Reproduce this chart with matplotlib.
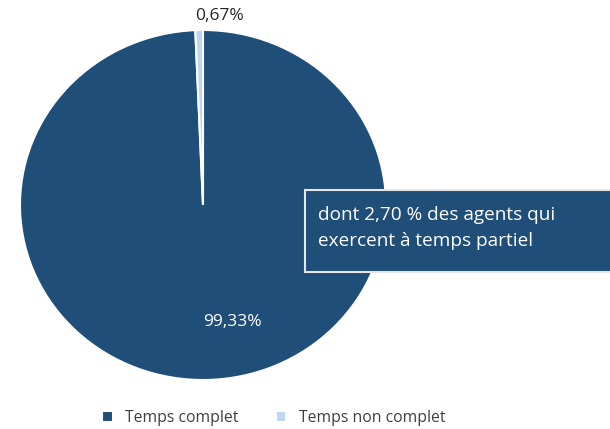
import matplotlib.pyplot as plt
from matplotlib.patches import Rectangle

# data
labels = ['Temps complet', 'Temps non complet']
values = [99.33, 0.67]
colors = ['#1F4E79', '#BDD7EE']
note = 'dont 2,70 % des agents qui\nexercent à temps partiel'

plt.rcParams['font.family'] = ['Open Sans', 'DejaVu Sans']

fig = plt.figure(figsize=(6.10, 4.29), dpi=100)
ax = fig.add_axes([20 / 610, 49 / 429, 366 / 610, 350 / 429])

wedges, _ = ax.pie(values, colors=colors, startangle=90, counterclock=False,
                   wedgeprops=dict(edgecolor='white', linewidth=1.5))
ax.set_aspect('auto')
ax.set_xlim(-1, 1)
ax.set_ylim(-1, 1)


def fmt(v):
    return ('%.2f%%' % v).replace('.', ',')


ax.text(0.16, -0.67, fmt(values[0]), color='white', fontsize=12.5,
        ha='center', va='center')
ax.text(0.09, 1.08, fmt(values[1]), color='#262626', fontsize=12.5,
        ha='center', va='center', clip_on=False)

# annotation box
box = Rectangle((305 / 610, (429 - 272) / 429), 320 / 610, 82 / 429,
                transform=fig.transFigure, facecolor='#1F4E79',
                edgecolor='#E6E6E6', linewidth=1.5, zorder=5)
fig.patches.append(box)
fig.text(318 / 610, (429 - 228) / 429, note, color='white', fontsize=13.7,
         ha='left', va='center', linespacing=1.6, zorder=6)

leg = fig.legend(wedges, labels, loc='center', bbox_to_anchor=(0.449, (429 - 418) / 429),
                 ncol=2, frameon=False, fontsize=11.3, handlelength=0.65,
                 handleheight=0.65, handletextpad=0.8, columnspacing=2.4)
for t in leg.get_texts():
    t.set_color('#404040')

fig.savefig('out.png', dpi=100)
